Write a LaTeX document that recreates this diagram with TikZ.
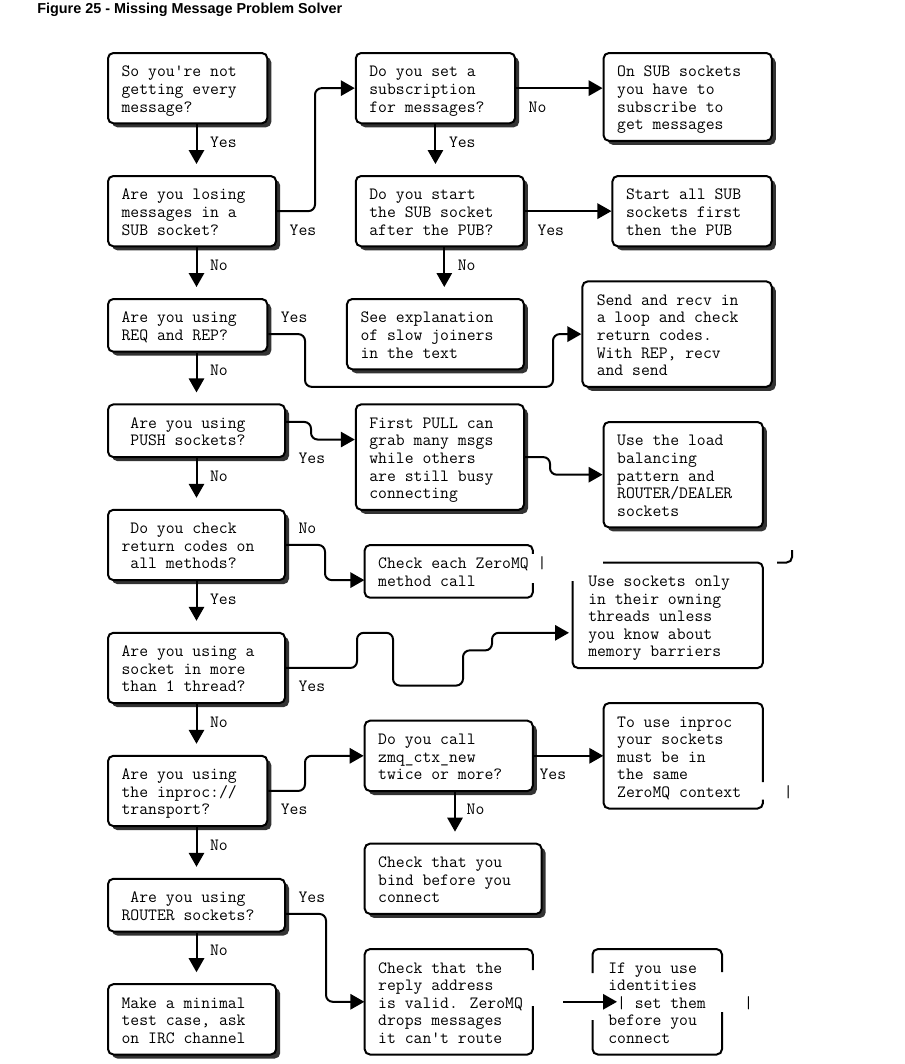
\documentclass[tikz,border=0pt]{standalone}
\usepackage{fontspec}
\usetikzlibrary{arrows.meta,shadows,fit}
\newfontfamily\titlef{Liberation Sans}
\newcommand\ditaafont{\fontsize{12.9pt}{13.18pt}\selectfont\ttfamily}
\begin{document}
\begin{tikzpicture}[x=0.75pt,y=-0.75pt,
  box/.style={draw, line width=1.5pt, rounded corners=4pt, fill=white, inner sep=0pt,
    drop shadow={shadow xshift=3pt, shadow yshift=-3pt, opacity=1, fill=black!80}},
  ghost/.style={inner sep=0pt},
  outline/.style={draw, line width=1.5pt, rounded corners=4pt},
  txt/.style={anchor=north west, inner sep=0pt, align=left, font=\ditaafont},
  conn/.style={line width=1.5pt, rounded corners=5pt, -{Triangle[length=10.5pt,width=11.5pt]}},
  down/.style={conn, shorten >=8.25pt},
]
\fill[white] (0,0) rectangle (905,1064);
\useasboundingbox (0,0) rectangle (905,1064);

\node[anchor=base west, inner sep=0pt, font=\titlef\bfseries\fontsize{10.8pt}{13pt}\selectfont] (title) at (37,13) {Figure 25 - Missing Message Problem Solver};

% ---------- boxes with shadow
\node[box, fit={(108,53)(267.3,123.3)}] (b1) {};
\node[box, fit={(108,176)(276.15,246.3)}] (b2) {};
\node[box, fit={(355.8,53)(515.1,123.3)}] (b3) {};
\node[box, fit={(603.6,53)(771.75,140.85)}] (b4) {};
\node[box, fit={(355.8,176)(523.95,246.3)}] (b5) {};
\node[box, fit={(612.45,176)(771.75,246.3)}] (b6) {};
\node[box, fit={(346.95,299)(523.95,369.3)}] (b7) {};
\node[box, fit={(582.4,281.4)(771.75,386.8)}] (b8) {};
\node[box, fit={(108,299)(267.3,351.7)}] (b9) {};
\node[box, fit={(108,404.4)(285,457.1)}] (b10) {};
\node[box, fit={(355.8,404.4)(524,509.8)}] (b11) {};
\node[box, fit={(603.6,422)(762.9,527.4)}] (b12) {};
\node[box, fit={(108,509.8)(285,580.1)}] (b13) {};
\node[box, fit={(108,632.8)(285,703.1)}] (b16) {};
\node[box, fit={(108,755.8)(267.3,826.1)}] (b17) {};
\node[box, fit={(364.65,720.7)(532.8,791)}] (b18) {};
\node[box, fit={(364.65,843.65)(541.65,913.9)}] (b21) {};
\node[box, fit={(108,878.8)(285,931.5)}] (b19) {};
\node[box, fit={(108,984.2)(276.15,1054.5)}] (b24) {};

% ---------- broken boxes (no shadow)
\node[ghost, fit={(364.65,545)(532.8,597.7)}] (b14) {};
\draw[outline] (532.8,553.8) -- (532.8,545) -- (364.65,545) -- (364.65,597.7) -- (532.8,597.7) -- (532.8,583);
\node[ghost, fit={(572.6,562.5)(762.9,668)}] (b15) {};
\draw[outline] (603,562.5) -- (762.9,562.5) -- (762.9,668) -- (572.6,668) -- (572.6,581);
\draw[outline] (777,562.5) -- (792,562.5) -- (792,550);
\node[ghost, fit={(603.6,703.1)(762.9,808.5)}] (b20) {};
\draw[outline] (762.9,782) -- (762.9,703.1) -- (603.6,703.1) -- (603.6,808.5) -- (762.9,808.5) -- (762.9,799.7);
\node[ghost, fit={(364.65,949.1)(532.8,1054.5)}] (b22) {};
\draw[outline] (532.8,970) -- (532.8,949.1) -- (364.65,949.1) -- (364.65,1054.5) -- (532.8,1054.5) -- (532.8,1006);
\node[ghost, fit={(592.5,949.1)(722,1054.5)}] (b23) {};
\draw[outline] (592.5,973) -- (592.5,949.1) -- (722,949.1) -- (722,972);
\draw[outline] (592.5,1020) -- (592.5,1054.5) -- (722,1054.5) -- (722,1012);

% ---------- texts
\node[txt] (t1) at (121.3,64.37) {\strut So you\textquotesingle re not\\getting every\\message?};
\node[txt] (t2) at (121.3,187.36) {\strut Are you losing\\messages in a\\SUB socket?};
\node[txt] (t3) at (369.1,64.37) {\strut Do you set a\\subscription\\for messages?};
\node[txt] (t4) at (616.9,64.37) {\strut On SUB sockets\\you have to\\subscribe to\\get messages};
\node[txt] (t5) at (369.1,187.36) {\strut Do you start\\the SUB socket\\after the PUB?};
\node[txt] (t6) at (625.75,187.36) {\strut Start all SUB\\sockets first\\then the PUB};
\node[txt] (t7) at (360.25,310.35) {\strut See explanation\\of slow joiners\\in the text};
\node[txt] (t8) at (596.5,292.78) {\strut Send and recv in\\a loop and check\\return codes.\\With REP, recv\\and send};
\node[txt] (t9) at (121.3,310.35) {\strut Are you using\\REQ and REP?};
\node[txt] (t10) at (130.15,415.77) {\strut Are you using\\PUSH sockets?};
\node[txt] (t11) at (369.1,415.77) {\strut First PULL can\\grab many msgs\\while others\\are still busy\\connecting};
\node[txt] (t12) at (616.9,433.34) {\strut Use the load\\balancing\\pattern and\\ROUTER/DEALER\\sockets};
\node[txt] (t13) at (121.3,521.19) {\strut\phantom{X}Do you check\\return codes on\\\phantom{X}all methods?};
\node[txt] (t14) at (377.95,556.33) {\strut Check each ZeroMQ |\\method call};
\node[txt] (t15) at (588,573.9) {\strut Use sockets only\\in their owning\\threads unless\\you know about\\memory barriers};
\node[txt] (t16) at (121.3,644.18) {\strut Are you using a\\socket in more\\than 1 thread?};
\node[txt] (t17) at (121.3,767.17) {\strut Are you using\\the inproc://\\transport?};
\node[txt] (t18) at (377.95,732.03) {\strut Do you call\\zmq\_ctx\_new\\twice or more?};
\node[txt] (t20) at (616.9,714.46) {\strut To use inproc\\your sockets\\must be in\\the same\\ZeroMQ context};
\node[txt] (t20b) at (783.6,784.74) {\strut |};
\node[txt] (t21) at (377.95,855.02) {\strut Check that you\\bind before you\\connect};
\node[txt] (t19) at (121.3,890.16) {\strut\phantom{X}Are you using\\ROUTER sockets?};
\node[txt] (t22) at (377.95,960.44) {\strut Check that the\\reply address\\is valid. ZeroMQ\\drops messages\\it can\textquotesingle t route};
\node[txt] (t23) at (608.05,960.44) {\strut If you use\\identities\\\phantom{X}| set them\\before you\\connect};
\node[txt] (t23b) at (743.9,995.58) {\strut |};
\node[txt] (t24) at (121.3,995.58) {\strut Make a minimal\\test case, ask\\on IRC channel};

% ---------- labels
\node[txt] (l1) at (209.8,134.65) {\strut Yes};
\node[txt] (l2) at (289.45,222.5) {\strut Yes};
\node[txt] (l3) at (209.8,257.64) {\strut No};
\node[txt] (l4) at (528.4,99.51) {\strut No};
\node[txt] (l5) at (448.75,134.65) {\strut Yes};
\node[txt] (l6) at (537.25,222.5) {\strut Yes};
\node[txt] (l7) at (457.6,257.64) {\strut No};
\node[txt] (l8) at (280.6,310.35) {\strut Yes};
\node[txt] (l9) at (209.8,363.06) {\strut No};
\node[txt] (l10) at (298.3,450.91) {\strut Yes};
\node[txt] (l11) at (209.8,468.48) {\strut No};
\node[txt] (l12) at (298.3,521.19) {\strut No};
\node[txt] (l13) at (209.8,591.47) {\strut Yes};
\node[txt] (l14) at (298.3,679.32) {\strut Yes};
\node[txt] (l15) at (209.8,714.46) {\strut No};
\node[txt] (l16) at (280.6,802.31) {\strut Yes};
\node[txt] (l17) at (539.3,767.17) {\strut Yes};
\node[txt] (l18) at (466.45,802.31) {\strut No};
\node[txt] (l19) at (209.8,837.45) {\strut No};
\node[txt] (l20) at (298.3,890.16) {\strut Yes};
\node[txt] (l21) at (209.8,942.87) {\strut No};

% ---------- vertical arrows
\draw[down] (b1.south -| 196.5,0) -- (b2.north -| 196.5,0);
\draw[down] (b2.south -| 196.5,0) -- (b9.north -| 196.5,0);
\draw[down] (b9.south -| 196.5,0) -- (b10.north -| 196.5,0);
\draw[down] (b10.south -| 196.5,0) -- (b13.north -| 196.5,0);
\draw[down] (b13.south -| 196.5,0) -- (b16.north -| 196.5,0);
\draw[down] (b16.south -| 196.5,0) -- (b17.north -| 196.5,0);
\draw[down] (b17.south -| 196.5,0) -- (b19.north -| 196.5,0);
\draw[down] (b19.south -| 196.5,0) -- (b24.north -| 196.5,0);
\draw[down] (b3.south -| 435.45,0) -- (b5.north -| 435.45,0);
\draw[down] (b5.south -| 444.3,0) -- (b7.north -| 444.3,0);
\draw[down] (b18.south -| 455,0) -- (b21.north -| 455,0);

% ---------- other connectors
\draw[conn] (b2.east |- 0,211.13) -- (315,211.13) -- (315,88.14) -- (b3.west |- 0,88.14);
\draw[conn] (b3.east |- 0,88.14) -- (b4.west |- 0,88.14);
\draw[conn] (b5.east |- 0,211.13) -- (b6.west |- 0,211.13);
\draw[conn] (b9.east |- 0,334.12) -- (305,334.12) -- (305,386.83) -- (553,386.83) -- (553,334.12) -- (b8.west |- 0,334.12);
\draw[conn] (b10.east |- 0,421.97) -- (311,421.97) -- (311,439.54) -- (b11.west |- 0,439.54);
\draw[conn] (b11.east |- 0,457.11) -- (550,457.11) -- (550,474.68) -- (b12.west |- 0,474.68);
\draw[conn] (b13.east |- 0,544.96) -- (325,544.96) -- (325,580.1) -- (b14.west |- 0,580.1);
\draw[conn] (b16.east |- 0,667.95) -- (357,667.95) -- (357,632.81) -- (393,632.81) -- (393,685.52) -- (463,685.52) -- (463,650.38) -- (492,650.38) -- (492,632.81) -- ([xshift=-2.5pt]b15.west |- 0,632.81);
\draw[conn] (b17.east |- 0,790.94) -- (305,790.94) -- (305,755.8) -- (b18.west |- 0,755.8);
\draw[conn] (b18.east |- 0,755.8) -- (b20.west |- 0,755.8);
\draw[conn] (b19.east |- 0,913.93) -- (326,913.93) -- (326,1001.78) -- (b22.west |- 0,1001.78);
\coordinate (fs) at (563,1001.78);
\coordinate (fe) at (617,1001.78);
\draw[conn] (fs) -- (fe);
\end{tikzpicture}
\end{document}
